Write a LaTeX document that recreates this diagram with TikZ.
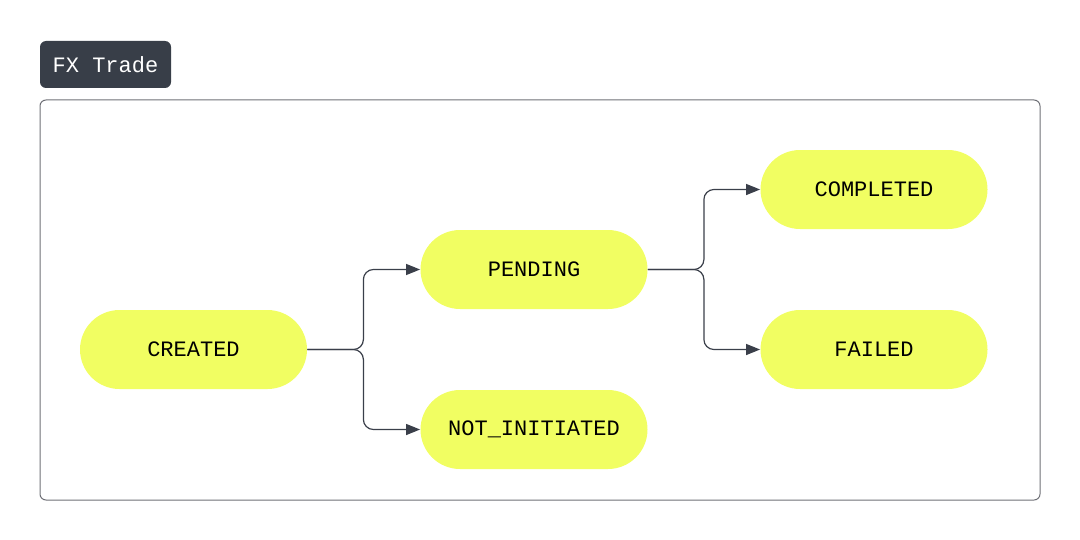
\documentclass[tikz,border=0pt]{standalone}
\usepackage{fontspec}
\setmonofont{Liberation Mono}
\usetikzlibrary{arrows.meta}
\definecolor{statefill}{RGB}{241,254,98}
\definecolor{edgecol}{RGB}{58,63,74}
\definecolor{tagfill}{RGB}{56,62,72}
\definecolor{framecol}{RGB}{110,112,118}
\begin{document}
\begin{tikzpicture}[x=0.5pt,y=-0.5pt,
    state/.style={fill=statefill, rounded corners=19.75pt, minimum width=113.5pt,
        minimum height=39.5pt, inner sep=0pt, font=\ttfamily\fontsize{11}{13}\selectfont},
    trans/.style={draw=edgecol, line width=0.6pt, rounded corners=5pt,
        -{Triangle[length=7pt,width=5.5pt]}}]
    \useasboundingbox (0,0) rectangle (1080,540);

    % Frame and tag
    \draw[framecol, line width=0.5pt, rounded corners=3pt] (40,100) rectangle (1040,500);
    \node[fill=tagfill, rounded corners=3pt, minimum width=65.5pt, minimum height=23.5pt,
        inner sep=0pt, text=white, font=\ttfamily\fontsize{11}{13}\selectfont]
        (tag) at (105.5,64.5) {FX Trade};

    % States
    \node[state] (created) at (193.5,349.5) {CREATED};
    \node[state] (pending) at (534,269.5) {PENDING};
    \node[state] (notinit) at (534,429.5) {NOT\_INITIATED};
    \node[state] (completed) at (874,189.5) {COMPLETED};
    \node[state] (failed) at (874,349.5) {FAILED};

    % Transitions
    \draw[trans] (created.east) -- ++(56,0) |- (pending.west);
    \draw[trans] (created.east) -- ++(56,0) |- (notinit.west);
    \draw[trans] (pending.east) -- ++(56,0) |- (completed.west);
    \draw[trans] (pending.east) -- ++(56,0) |- (failed.west);

\end{tikzpicture}
\end{document}
